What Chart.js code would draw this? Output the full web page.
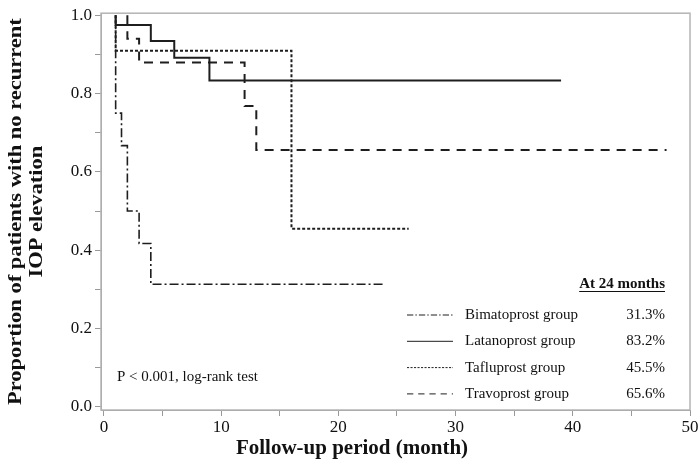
<!DOCTYPE html>
<html>
<head>
<meta charset="utf-8">
<script src="https://cdn.jsdelivr.net/npm/chart.js@4.4.1/dist/chart.umd.min.js"></script>
<style>
  html, body { margin: 0; padding: 0; background: #fff; }
  #wrap { width: 700px; height: 468px; }
</style>
</head>
<body>
<div id="wrap"><canvas id="kmChart" width="700" height="468"></canvas></div>
<script>
// Curvas de Kaplan-Meier: proporção sem nova elevação da PIO por grupo
const groupNames = ['Bimatoprost group', 'Latanoprost group', 'Tafluprost group', 'Travoprost group'];
const at24Months = ['31.3%', '83.2%', '45.5%', '65.6%'];

const bimaMonths = [1, 1, 1.5, 2, 3, 4, 24];
const bimaSurv = [1.0, 0.75, 0.667, 0.5, 0.417, 0.313, 0.313];

const latMonths = [1, 1, 4, 6, 9, 39];
const latSurv = [1.0, 0.975, 0.934, 0.891, 0.833, 0.833];

const tafMonths = [1, 1, 16, 26];
const tafSurv = [1.0, 0.909, 0.455, 0.455];

const travMonths = [2, 2, 3, 12, 13, 48];
const travSurv = [1.0, 0.94, 0.879, 0.768, 0.656, 0.656];

const xTicks = [0, 5, 10, 15, 20, 25, 30, 35, 40, 45, 50];
const xTickLabels = ['0', '', '10', '', '20', '', '30', '', '40', '', '50'];
const yTicks = [0, 0.1, 0.2, 0.3, 0.4, 0.5, 0.6, 0.7, 0.8, 0.9, 1.0];
const yTickLabels = ['0.0', '', '0.2', '', '0.4', '', '0.6', '', '0.8', '', '1.0'];

const xTitle = 'Follow-up period (month)';
const yTitle = ['Proportion of patients with no recurrent', 'IOP elevation'];
const legendTitle = 'At 24 months';
const pValueNote = 'P < 0.001, log-rank test';

const SERIF = '"Liberation Serif", "Times New Roman", serif';
const INK = '#1e1e1e';
const dashes = [[9, 3, 2, 3], [], [3, 2], [9, 7]];
const widths = [1.6, 2, 2, 2];

function toPoints(xs, ys) {
  return xs.map((x, i) => ({ x: x, y: ys[i] }));
}

const series = [
  toPoints(bimaMonths, bimaSurv),
  toPoints(latMonths, latSurv),
  toPoints(tafMonths, tafSurv),
  toPoints(travMonths, travSurv)
];

// moldura, títulos dos eixos, legenda e nota do teste log-rank
const kmExtras = {
  id: 'kmExtras',
  afterDraw(chart) {
    const { ctx, chartArea: a } = chart;
    ctx.save();
    ctx.strokeStyle = '#b4b4b4';
    ctx.lineWidth = 1.5;
    ctx.strokeRect(a.left, a.top, a.right - a.left, a.bottom - a.top);

    ctx.fillStyle = '#111';
    ctx.font = 'bold 21px ' + SERIF;
    ctx.textAlign = 'center';
    ctx.textBaseline = 'middle';
    ctx.fillText(xTitle, 352, 449);

    // título do eixo y, esticado no sentido do texto como no original
    ctx.save();
    ctx.translate(0, (a.top + a.bottom) / 2);
    ctx.rotate(-Math.PI / 2);
    ctx.scale(1.25, 1);
    ctx.font = 'bold 18px ' + SERIF;
    ctx.fillText(yTitle[0], 0, 16);
    ctx.fillText(yTitle[1], 0, 37);
    ctx.restore();

    // cabeçalho sublinhado
    ctx.font = 'bold 15px ' + SERIF;
    ctx.textAlign = 'right';
    ctx.fillText(legendTitle, 665, 284);
    const w = ctx.measureText(legendTitle).width;
    ctx.strokeStyle = '#111';
    ctx.lineWidth = 1;
    ctx.beginPath();
    ctx.moveTo(665 - w, 291.5);
    ctx.lineTo(665, 291.5);
    ctx.stroke();

    ctx.font = '15px ' + SERIF;
    groupNames.forEach((name, i) => {
      const y = 315 + i * 26.3;
      ctx.strokeStyle = INK;
      ctx.lineWidth = 1;
      ctx.setLineDash(dashes[i].map(d => Math.max(1, d * 0.7)));
      ctx.beginPath();
      ctx.moveTo(407, y);
      ctx.lineTo(453, y);
      ctx.stroke();
      ctx.setLineDash([]);
      ctx.textAlign = 'left';
      ctx.fillText(name, 465, y);
      ctx.textAlign = 'right';
      ctx.fillText(at24Months[i], 665, y);
    });

    ctx.textAlign = 'left';
    ctx.fillText(pValueNote, 117, 377);
    ctx.restore();
  }
};

const ctx = document.getElementById('kmChart').getContext('2d');
new Chart(ctx, {
  type: 'line',
  data: {
    datasets: series.map((pts, i) => ({
      label: groupNames[i],
      data: pts,
      stepped: true,
      borderColor: INK,
      borderWidth: widths[i],
      borderDash: dashes[i],
      pointRadius: 0,
      fill: false
    }))
  },
  options: {
    responsive: false,
    animation: false,
    layout: { padding: { left: 0, top: 10, right: 10, bottom: 0 } },
    plugins: {
      legend: { display: false },
      tooltip: { enabled: false }
    },
    scales: {
      x: {
        type: 'linear',
        min: -0.25,
        max: 50,
        afterBuildTicks: s => { s.ticks = xTicks.map(v => ({ value: v })); },
        afterFit: s => { s.height = 58; },
        grid: { drawOnChartArea: false, drawTicks: true, tickLength: 6, color: '#999' },
        border: { display: true, color: '#999' },
        ticks: {
          autoSkip: false,
          maxRotation: 0,
          padding: 1,
          color: '#111',
          font: { family: SERIF, size: 17 },
          callback: (v, i) => xTickLabels[i]
        }
      },
      y: {
        min: -0.008,
        max: 1.005,
        afterBuildTicks: s => { s.ticks = yTicks.map(v => ({ value: v })); },
        afterFit: s => { s.width = 101; },
        grid: { drawOnChartArea: false, drawTicks: true, tickLength: 6, color: '#999' },
        border: { display: true, color: '#999' },
        ticks: {
          autoSkip: false,
          padding: 3,
          color: '#111',
          font: { family: SERIF, size: 17 },
          callback: (v, i) => yTickLabels[i]
        }
      }
    }
  },
  plugins: [kmExtras]
});
</script>
</body>
</html>
